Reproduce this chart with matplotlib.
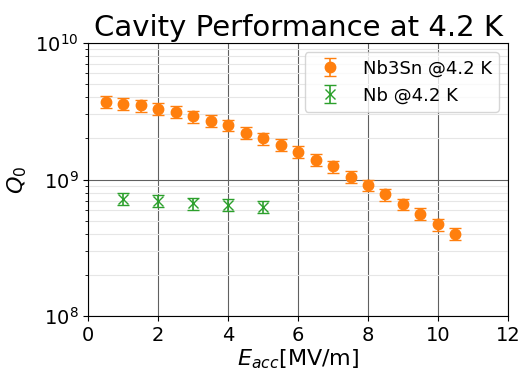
import numpy as np
import matplotlib
matplotlib.use('Agg')
import matplotlib.pyplot as plt

# Nb3Sn cavity at 4.2 K
eacc_nb3sn = [0.5, 1.0, 1.5, 2.0, 2.5, 3.0, 3.5, 4.0, 4.5, 5.0, 5.5,
              6.0, 6.5, 7.0, 7.5, 8.0, 8.5, 9.0, 9.5, 10.0, 10.5]
q0_nb3sn = [3.7e9, 3.6e9, 3.5e9, 3.3e9, 3.15e9, 2.9e9, 2.7e9, 2.5e9, 2.2e9, 2.0e9, 1.8e9,
            1.6e9, 1.4e9, 1.25e9, 1.05e9, 0.91e9, 0.78e9, 0.66e9, 0.56e9, 0.47e9, 0.40e9]

# Nb cavity at 4.2 K
eacc_nb = [1, 2, 3, 4, 5]
q0_nb = [0.72e9, 0.70e9, 0.67e9, 0.65e9, 0.63e9]

rel_err = 0.1

fig = plt.figure(figsize=(5.21, 3.71), dpi=100)
ax = fig.add_axes([0.169, 0.148, 0.806, 0.736])

ax.errorbar(eacc_nb3sn, q0_nb3sn, yerr=np.array(q0_nb3sn) * rel_err, fmt='o',
            color='tab:orange', ms=7.5, capsize=4, elinewidth=1.2, label='Nb3Sn @4.2 K')
ax.errorbar(eacc_nb, q0_nb, yerr=np.array(q0_nb) * rel_err, fmt='x',
            color='tab:green', ms=7.5, capsize=4, elinewidth=1.2, label='Nb @4.2 K')

ax.set_yscale('log')
ax.set_xlim(0, 12)
ax.set_ylim(1e8, 1e10)
ax.set_xticks([0, 2, 4, 6, 8, 10, 12])

ax.grid(True, which='major', color='#606060', linewidth=0.8)
ax.grid(True, which='minor', color='#e6e6e6', linewidth=0.8)
ax.set_axisbelow(True)

ax.tick_params(axis='both', which='major', labelsize=14)
ax.set_xlabel(r'$E_{acc}$[MV/m]', fontsize=16, labelpad=2)
ax.set_ylabel(r'$Q_0$', fontsize=16)
ax.set_title('Cavity Performance at 4.2 K', fontsize=21, pad=5)

ax.legend(loc='upper right', fontsize=13)

fig.savefig('out.png', dpi=100)
